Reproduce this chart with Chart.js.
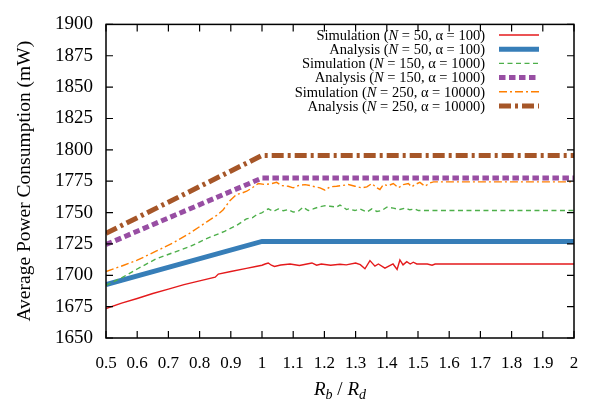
<!DOCTYPE html>
<html><head><meta charset="utf-8">
<script src="https://cdn.jsdelivr.net/npm/chart.js@4"></script>
<style>html,body{margin:0;padding:0;background:#fff}</style>
</head><body>
<canvas id="c" width="597" height="404"></canvas>
<script>
// ---- data ----
const seriesLabels = [
  'Simulation (N = 50, α = 100)',
  'Analysis (N = 50, α = 100)',
  'Simulation (N = 150, α = 1000)',
  'Analysis (N = 150, α = 1000)',
  'Simulation (N = 250, α = 10000)',
  'Analysis (N = 250, α = 10000)'
];
const simN50X = [0.5,0.55,0.6,0.65,0.7,0.75,0.8,0.85,0.86,0.9,0.95,0.98,1.0,1.01,1.02,1.03,1.04,1.06,1.09,1.12,1.14,1.16,1.175,1.19,1.22,1.25,1.27,1.30,1.315,1.33,1.346,1.362,1.373,1.394,1.42,1.433,1.442,1.452,1.464,1.475,1.485,1.496,1.53,1.545,1.555,2.0];
const simN50Y = [1673.5,1677.8,1681.5,1685.5,1689,1692.5,1695.5,1698.5,1701,1703,1705.5,1707,1708,1709,1709.8,1708,1707,1708.2,1709,1707.8,1708.8,1709.8,1708,1709,1708,1708.8,1708.3,1709.8,1708.5,1705.2,1711.7,1707.3,1709,1705.7,1709,1704.7,1712.2,1708.3,1710.9,1709,1710.4,1709,1709,1708,1709,1709];
const anaN50X = [0.5,1,2];
const anaN50Y = [1692.5,1727,1727];
const simN150X = [0.5,0.55,0.6,0.66,0.72,0.77,0.82,0.88,0.92,0.95,0.97,0.983,0.999,1.02,1.036,1.052,1.068,1.084,1.10,1.116,1.132,1.148,1.164,1.18,1.202,1.218,1.239,1.25,1.261,1.271,1.277,1.298,1.314,1.336,1.352,1.368,1.384,1.40,1.421,1.442,1.458,1.474,1.49,1.501,2.0];
const simN150Y = [1692,1698,1705,1713,1718.5,1723,1729,1735,1740,1745,1746,1748.3,1749.8,1752.9,1750.9,1752.9,1751.4,1752.4,1750.4,1750.9,1754.3,1751.6,1752.9,1754.3,1755.5,1755,1754.3,1756,1754.3,1752.4,1752.9,1751.6,1752.9,1750.4,1752.9,1750.9,1751.6,1754.3,1753.5,1752.4,1753.5,1752.2,1752.9,1751.6,1751.6];
const anaN150X = [0.5,1,2];
const anaN150Y = [1724.5,1777.5,1777.5];
const simN250X = [0.5,0.555,0.6,0.662,0.72,0.769,0.823,0.855,0.875,0.897,0.919,0.935,0.951,0.97,0.988,1.01,1.031,1.047,1.063,1.084,1.10,1.116,1.138,1.154,1.17,1.186,1.202,1.218,1.239,1.255,1.277,1.298,1.32,1.336,1.352,1.368,1.378,1.389,1.405,1.421,1.437,1.453,1.469,1.48,1.49,1.506,1.522,1.538,1.55,2.0];
const simN250Y = [1703,1707.8,1712,1719.4,1726.5,1733.6,1742.6,1747.8,1752,1759.4,1764.5,1765.5,1767,1770,1773.1,1772.3,1773.1,1774.1,1771.5,1771,1769.7,1771.5,1772.3,1771.5,1770.5,1769.7,1767.9,1770.5,1771,1771.5,1772.3,1771,1769.7,1770.5,1773.1,1769.7,1768.4,1772.3,1771.5,1773.1,1769.7,1772.3,1773.1,1770.5,1772.3,1774.1,1771,1773.6,1774.5,1774.5];
const anaN250X = [0.5,1,2];
const anaN250Y = [1733.5,1795.5,1795.5];
const xTickLabels = ['0.5','0.6','0.7','0.8','0.9','1','1.1','1.2','1.3','1.4','1.5','1.6','1.7','1.8','1.9','2'];
const yTickLabels = ['1650','1675','1700','1725','1750','1775','1800','1825','1850','1875','1900'];

const pts = (xs, ys) => xs.map((x, i) => ({x: x, y: ys[i]}));
const seriesData = [
  pts(simN50X, simN50Y), pts(anaN50X, anaN50Y),
  pts(simN150X, simN150Y), pts(anaN150X, anaN150Y),
  pts(simN250X, simN250Y), pts(anaN250X, anaN250Y)
];
const styles = [
  {c:'#e41a1c', w:1.4, d:[]},
  {c:'#377eb8', w:5, d:[]},
  {c:'#4daf4a', w:1.4, d:[5,3.5]},
  {c:'#984ea3', w:5, d:[6.5,3.5]},
  {c:'#ff7f00', w:1.4, d:[8,3,2,3]},
  {c:'#a65628', w:5, d:[12,4,3,4]}
];

const SERIF = '"Liberation Serif", "DejaVu Serif", serif';

const deco = {
  id: 'deco',
  afterDraw(chart) {
    const ctx = chart.ctx, a = chart.chartArea;
    const xs = chart.scales.x, ys = chart.scales.y;
    ctx.save();
    ctx.strokeStyle = '#000'; ctx.lineWidth = 1.5; ctx.setLineDash([]);
    ctx.strokeRect(a.left, a.top, a.right - a.left, a.bottom - a.top);
    const tl = 7;
    ctx.lineWidth = 1.2;
    ctx.beginPath();
    xs.ticks.forEach(t => {
      const px = xs.getPixelForValue(t.value);
      ctx.moveTo(px, a.bottom); ctx.lineTo(px, a.bottom - tl);
      ctx.moveTo(px, a.top); ctx.lineTo(px, a.top + tl);
    });
    ys.ticks.forEach(t => {
      const py = ys.getPixelForValue(t.value);
      ctx.moveTo(a.left, py); ctx.lineTo(a.left + tl, py);
      ctx.moveTo(a.right, py); ctx.lineTo(a.right - tl, py);
    });
    ctx.stroke();

    // y title
    ctx.fillStyle = '#000';
    ctx.save();
    ctx.translate(25, (a.top + a.bottom) / 2);
    ctx.rotate(-Math.PI / 2);
    ctx.font = '19.5px ' + SERIF;
    ctx.textAlign = 'center'; ctx.textBaseline = 'middle';
    ctx.fillText('Average Power Consumption (mW)', 0, 0);
    ctx.restore();

    // x title: R_b / R_d
    const parts = [
      {t:'R', f:'italic 19px ' + SERIF, dy:0},
      {t:'b', f:'italic 14px ' + SERIF, dy:4},
      {t:' / ', f:'19px ' + SERIF, dy:0},
      {t:'R', f:'italic 19px ' + SERIF, dy:0},
      {t:'d', f:'italic 14px ' + SERIF, dy:4}
    ];
    let tw = 0;
    parts.forEach(p => { ctx.font = p.f; p.w = ctx.measureText(p.t).width; tw += p.w; });
    let cx = (a.left + a.right) / 2 - tw / 2;
    ctx.textAlign = 'left'; ctx.textBaseline = 'alphabetic';
    parts.forEach(p => { ctx.font = p.f; ctx.fillText(p.t, cx, 395 + p.dy); cx += p.w; });

    // legend
    const rightX = 485, sx0 = 499, sx1 = 539, y0 = 35, dyRow = 14.2;
    chart.data.datasets.forEach((ds, i) => {
      const y = y0 + i * dyRow;
      const lab = ds.label;
      const k = lab.indexOf('N');
      const segs = [
        {t: lab.slice(0, k), f: '14.5px ' + SERIF},
        {t: 'N', f: 'italic 14.5px ' + SERIF},
        {t: lab.slice(k + 1), f: '14.5px ' + SERIF}
      ];
      let w = 0;
      segs.forEach(s => { ctx.font = s.f; s.w = ctx.measureText(s.t).width; w += s.w; });
      let x = rightX - w;
      ctx.textBaseline = 'middle'; ctx.fillStyle = '#000';
      segs.forEach(s => { ctx.font = s.f; ctx.fillText(s.t, x, y + 1); x += s.w; });
      ctx.strokeStyle = ds.borderColor; ctx.lineWidth = ds.borderWidth;
      ctx.setLineDash(ds.borderDash); ctx.lineCap = 'butt';
      ctx.beginPath(); ctx.moveTo(sx0, y); ctx.lineTo(sx1, y); ctx.stroke();
    });
    ctx.restore();
  }
};

new Chart(document.getElementById('c'), {
  type: 'line',
  data: {
    datasets: seriesData.map((d, i) => ({
      label: seriesLabels[i],
      data: d,
      borderColor: styles[i].c,
      backgroundColor: styles[i].c,
      borderWidth: styles[i].w,
      borderDash: styles[i].d,
      borderCapStyle: 'butt',
      borderJoinStyle: 'miter',
      pointRadius: 0,
      tension: 0,
      fill: false,
      order: 6 - i
    }))
  },
  options: {
    responsive: false,
    devicePixelRatio: 1,
    animation: false,
    layout: {padding: {top: 15, right: 23, left: 0, bottom: 0}},
    plugins: {legend: {display: false}, tooltip: {enabled: false}},
    scales: {
      x: {
        type: 'linear', min: 0.5, max: 2,
        grid: {display: false, drawTicks: false},
        border: {display: false},
        ticks: {
          stepSize: 0.1, autoSkip: false, maxRotation: 0, padding: 15,
          color: '#000', font: {family: SERIF, size: 17},
          callback: (v, i) => xTickLabels[i]
        },
        afterFit: s => { s.height = 66; }
      },
      y: {
        type: 'linear', min: 1650, max: 1900,
        grid: {display: false, drawTicks: false},
        border: {display: false},
        ticks: {
          stepSize: 25, autoSkip: false, padding: 13,
          color: '#000', font: {family: SERIF, size: 19},
          callback: (v, i) => yTickLabels[i]
        },
        afterFit: s => { s.width = 106; }
      }
    }
  },
  plugins: [deco]
});
</script>
</body></html>
